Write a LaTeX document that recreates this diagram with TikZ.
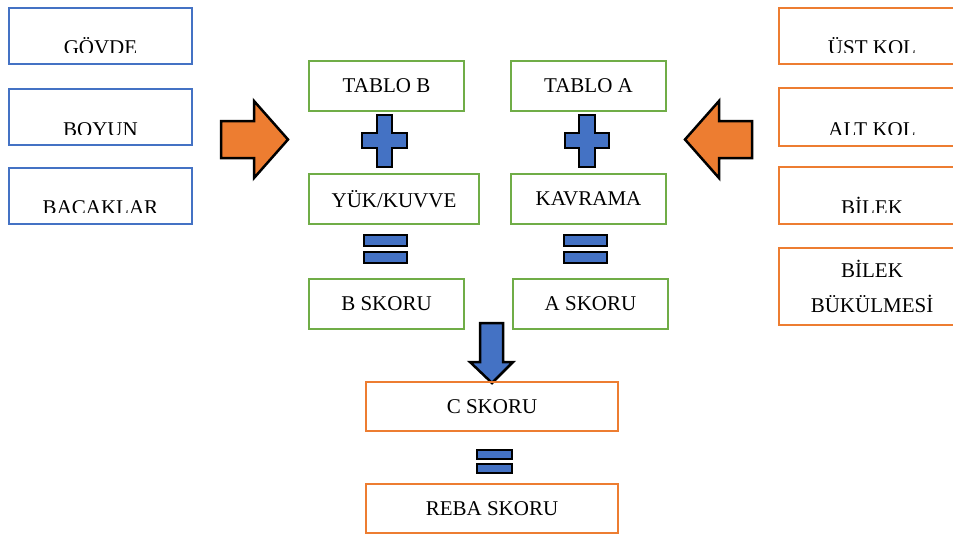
\documentclass[tikz,border=0pt]{standalone}
\usepackage{fontspec}
\setmainfont{Liberation Serif}
\definecolor{mblue}{HTML}{4472C4}
\definecolor{mgreen}{HTML}{70AD47}
\definecolor{morange}{HTML}{ED7D31}
\begin{document}
\begin{tikzpicture}[x=1pt,y=-1pt,
  font=\fontsize{21}{24}\selectfont,
  box/.style={draw, line width=2pt, inner sep=0pt},
  bluebox/.style={box, draw=mblue, minimum width=183pt, minimum height=56pt},
  orangebox/.style={box, draw=morange, minimum width=186pt},
  greenbox/.style={box, draw=mgreen, minimum height=50pt},
  cbox/.style={box, draw=morange, minimum width=252pt, minimum height=49pt},
  lbl/.style={inner sep=0pt, anchor=base},
  symb/.style={draw=black, line width=2.5pt, line join=miter, fill=mblue},
  bigarrow/.style={draw=black, line width=2.5pt, line join=miter, fill=morange}]
\useasboundingbox (0,0) rectangle (953,539);
\fill[white] (0,0) rectangle (953,539);

% left blue boxes
\node[bluebox] (govde) at (100.5,36) {};
\node[bluebox] (boyun) at (100.5,117) {};
\node[bluebox] (bacak) at (100.5,195.5) {};
\begin{scope}
  \clip (0,0) rectangle (953,52.5);
  \node[lbl] (tgovde) at (100.5,54) {GÖVDE};
\end{scope}
\begin{scope}
  \clip (0,90) rectangle (400,134.5);
  \node[lbl] (tboyun) at (100.5,136) {BOYUN};
\end{scope}
\begin{scope}
  \clip (0,170) rectangle (400,212.5);
  \node[lbl] (tbacak) at (100.5,214) {BACAKLAR};
\end{scope}

% right orange boxes
\node[orangebox, minimum height=56pt] (ust) at (872,36) {};
\node[orangebox, minimum height=58pt] (alt) at (872,117) {};
\node[orangebox, minimum height=57pt] (bilek) at (872,195.5) {};
\node[orangebox, minimum height=77pt, align=center,
      font=\fontsize{21}{35}\selectfont] (bukul) at (872,286) {BİLEK\\BÜKÜLMESİ};
\begin{scope}
  \clip (700,0) rectangle (953,52.5);
  \node[lbl] (tust) at (872,54) {ÜST KOL};
\end{scope}
\begin{scope}
  \clip (700,90) rectangle (953,134.5);
  \node[lbl] (talt) at (872,136) {ALT KOL};
\end{scope}
\begin{scope}
  \clip (700,170) rectangle (953,212.5);
  \node[lbl] (tbilek) at (872,214) {BİLEK};
\end{scope}

% big orange arrows
\draw[bigarrow] (221,121) -- (254,121) -- (254,101) -- (288,139.5) -- (254,178) -- (254,158) -- (221,158) -- cycle;
\draw[bigarrow] (752,121) -- (719,121) -- (719,101) -- (685,139.5) -- (719,178) -- (719,158) -- (752,158) -- cycle;

% green boxes
\node[greenbox, minimum width=155pt] (tablob) at (386.5,86) {TABLO B};
\node[greenbox, minimum width=155pt] (tabloa) at (588.5,86) {TABLO A};
\node[greenbox, minimum width=170pt] (yuk) at (394,199) {YÜK/KUVVE};
\node[greenbox, minimum width=155pt] (kavrama) at (588.5,199) {KAVRAMA};
\node[greenbox, minimum width=155pt] (bskor) at (386.5,304) {B SKORU};
\node[greenbox, minimum width=155pt] (askor) at (590.5,304) {A SKORU};

% plus signs
\draw[symb] (377,115) -- (392,115) -- (392,133) -- (407,133) -- (407,148) -- (392,148) -- (392,167) -- (377,167) -- (377,148) -- (362,148) -- (362,133) -- (377,133) -- cycle;
\draw[symb] (579,115) -- (595,115) -- (595,133) -- (609,133) -- (609,148) -- (595,148) -- (595,167) -- (579,167) -- (579,148) -- (565,148) -- (565,133) -- (579,133) -- cycle;

% equals signs
\draw[symb] (364,235) rectangle (407,246);
\draw[symb] (364,252) rectangle (407,263);
\draw[symb] (564,235) rectangle (607,246);
\draw[symb] (564,252) rectangle (607,263);

% down arrow
\draw[symb] (480,323) -- (503,323) -- (503,362) -- (513,362) -- (492,383) -- (470,362) -- (480,362) -- cycle;

% bottom boxes
\node[cbox] (cskor) at (492,406.5) {C SKORU};
\draw[symb] (477,450) rectangle (512,459);
\draw[symb] (477,464) rectangle (512,473);
\node[cbox] (reba) at (492,508.5) {REBA SKORU};
\end{tikzpicture}
\end{document}
